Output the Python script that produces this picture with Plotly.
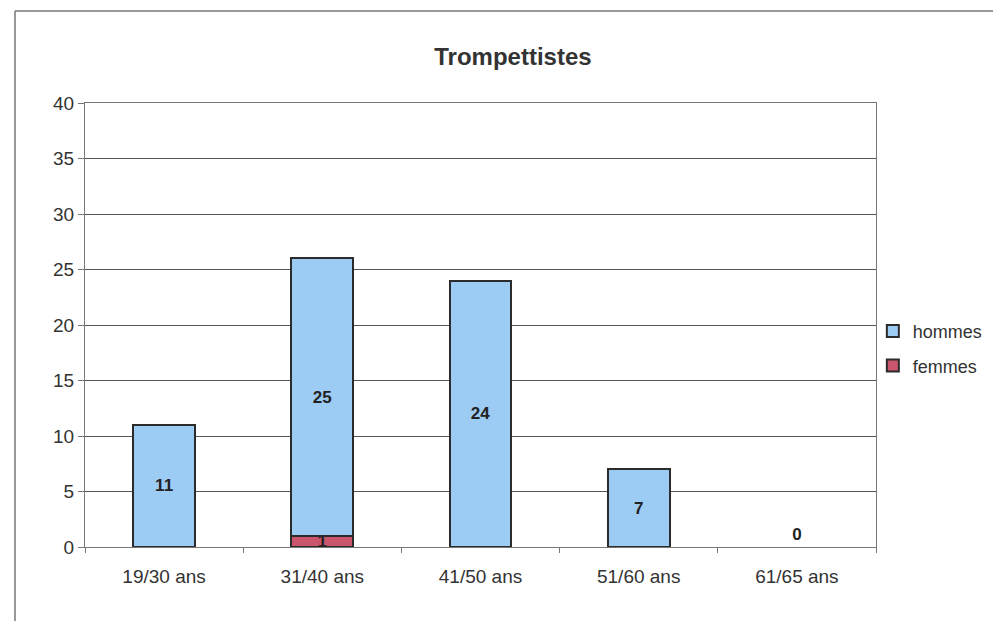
import plotly.graph_objects as go

categories = ["19/30 ans", "31/40 ans", "41/50 ans", "51/60 ans", "61/65 ans"]
hommes = [11, 25, 24, 7, 0]
femmes = [0, 1, 0, 0, 0]
y_ticks = [0, 5, 10, 15, 20, 25, 30, 35, 40]

FONT = "Liberation Sans, Arial, sans-serif"
label_font = dict(family=FONT, size=17, color="#222222")

# only non-empty femmes segments are drawn
fem_x = [c for c, v in zip(categories, femmes) if v]
fem_y = [v for v in femmes if v]

fig = go.Figure()

# femmes at the bottom of the stack
fig.add_trace(go.Bar(
    x=fem_x, y=fem_y, name="femmes", legend="legend2",
    marker=dict(color="#C9566C", line=dict(color="#2b2b2b", width=2)),
    text=[str(v) for v in fem_y],
    textposition="inside", insidetextanchor="middle", constraintext="none",
    textangle=0, textfont=label_font, texttemplate="<b>%{text}</b>",
))

fig.add_trace(go.Bar(
    x=categories, y=hommes, name="hommes", legend="legend",
    marker=dict(color="#9CCBF3",
                line=dict(color="#2b2b2b", width=[2 if v else 0 for v in hommes])),
    text=[str(v) for v in hommes],
    textposition=["inside" if v else "outside" for v in hommes],
    insidetextanchor="middle", constraintext="none", cliponaxis=False,
    textangle=0, textfont=label_font, texttemplate="<b>%{text}</b>",
))

legend_style = dict(xanchor="left", yanchor="middle", bgcolor="rgba(0,0,0,0)",
                    font=dict(family=FONT, size=18, color="#333333"), itemwidth=30)

fig.update_layout(
    width=1001, height=621,
    margin=dict(l=77, r=133, t=95, b=82),
    barmode="stack", bargap=0.61,
    paper_bgcolor="white", plot_bgcolor="white",
    font=dict(family=FONT, size=19, color="#333333"),
    title=dict(text="<b>Trompettistes</b>", x=0.541, xref="paper", xanchor="center",
               y=0.921, yanchor="middle",
               font=dict(family=FONT, size=24, color="#333333")),
    showlegend=True,
    legend=dict(x=0.996, y=0.486, **legend_style),
    legend2=dict(x=0.996, y=0.408, **legend_style),
    shapes=[
        dict(type="line", xref="paper", yref="paper", x0=-0.0885, x1=1.2,
             y0=1.207, y1=1.207, line=dict(color="#777777", width=1.5)),
        dict(type="line", xref="paper", yref="paper", x0=-0.0885, x1=-0.0885,
             y0=1.207, y1=-0.2, line=dict(color="#777777", width=1.5)),
    ],
)

fig.update_yaxes(
    range=[0, 40], tickvals=y_ticks, showgrid=True, gridcolor="#555555", gridwidth=1,
    showline=True, linecolor="#777777", linewidth=1, mirror=True,
    ticks="outside", ticklen=6, tickcolor="#777777", zeroline=False,
)
fig.update_xaxes(
    categoryorder="array", categoryarray=categories,
    showline=True, linecolor="#777777", linewidth=1, mirror=True,
    ticks="outside", ticklen=5, tickcolor="#777777", tickson="boundaries",
    ticklabelstandoff=12, showgrid=False,
)

fig.write_html("out.html")
